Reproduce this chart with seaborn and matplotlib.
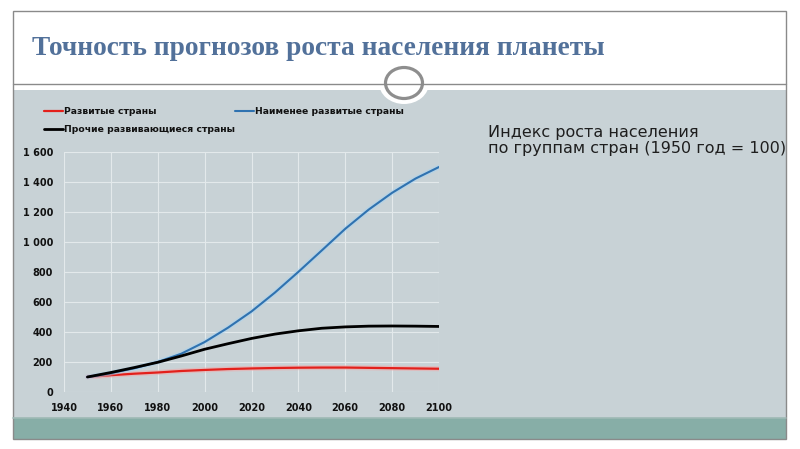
import matplotlib
matplotlib.use("Agg")
import matplotlib.pyplot as plt
import matplotlib.patches as mpatches
import matplotlib.patheffects as pe
import matplotlib.ticker as mticker
import numpy as np
import pandas as pd
import seaborn as sns

# ---------------- data ----------------
years = [1950, 1960, 1970, 1980, 1990, 2000, 2010, 2020, 2030, 2040,
         2050, 2060, 2070, 2080, 2090, 2100]
developed = [100, 112, 122, 130, 140, 147, 153, 157, 160, 162,
             163, 163, 161, 159, 157, 155]
least_developed = [100, 126, 158, 200, 255, 333, 429, 537, 663, 801,
                   944, 1088, 1216, 1328, 1423, 1500]
other_developing = [100, 130, 163, 198, 240, 285, 322, 357, 386, 408,
                    425, 434, 439, 440, 439, 437]
series_names = ["Развитые страны", "Наименее развитые страны",
                "Прочие развивающиеся страны"]
series_colors = ["#e3201b", "#2f72b0", "#000000"]
x_ticks = [1940, 1960, 1980, 2000, 2020, 2040, 2060, 2080, 2100]
y_ticks = [0, 200, 400, 600, 800, 1000, 1200, 1400, 1600]
title_text = "Точность прогнозов роста населения планеты"
note_text = "Индекс роста населения\nпо группам стран (1950 год = 100)"

df = pd.DataFrame({
    "year": years * 3,
    "value": developed + least_developed + other_developing,
    "group": [series_names[0]] * len(years) + [series_names[1]] * len(years)
             + [series_names[2]] * len(years),
})

sns.set_theme(style="white")
plt.rcParams["font.family"] = ["DejaVu Sans"]

W, H = 800, 449
fig = plt.figure(figsize=(W / 100, H / 100), dpi=100)
fig.patch.set_facecolor("white")

# ---------------- slide background (pixel coords) ----------------
bg = fig.add_axes([0, 0, 1, 1], zorder=0)
bg.set_xlim(0, W)
bg.set_ylim(H, 0)
bg.axis("off")
panel = mpatches.Rectangle((13, 90), 773, 328, facecolor="#c8d2d6",
                           edgecolor="none")
bg.add_patch(panel)
bg.add_patch(mpatches.Rectangle((13, 418), 773, 21, facecolor="#87aea7",
                                edgecolor="none"))
bg.plot([13, 786], [418, 418], color="#9fb9b5", lw=1.2)
bg.add_patch(mpatches.Rectangle((13, 11), 773, 428, facecolor="none",
                                edgecolor="#8a8a8a", lw=1.0))
bg.plot([13, 786], [84, 84], color="#8a8a8a", lw=1.0)
# ornament circle
bg.add_patch(mpatches.Ellipse((404, 83), 50, 42, facecolor="white",
                              edgecolor="none"))
bg.add_patch(mpatches.Ellipse((404, 83), 37, 31, facecolor="white",
                              edgecolor="#8e8e8e", lw=2.3))
bg.text(32, 55, title_text, family="Liberation Serif", weight="bold",
        fontsize=19.75, color="#52719a", ha="left", va="baseline")
note = bg.text(488, 153, note_text, fontsize=11.5, color="#1e1e1e",
               ha="left", va="baseline", linespacing=1.08)
note.set_clip_path(panel)

# ---------------- chart ----------------
ax = fig.add_axes([64 / W, 1 - 392 / H, 375 / W, 240 / H], zorder=2)
ax.patch.set_alpha(0)
halo = ["#f4a5a5", "#a6d2f2", None]
widths = [1.6, 1.5, 2.0]
for i, name in enumerate(series_names):
    sub = df[df["group"] == name]
    sns.lineplot(data=sub, x="year", y="value", ax=ax, color=series_colors[i],
                 lw=widths[i], label=name, zorder=3 + (i == 2))

ax.set_xlim(1940, 2100)
ax.set_ylim(0, 1600)
ax.set_xticks(x_ticks)
ax.set_yticks(y_ticks)
ax.yaxis.set_major_formatter(mticker.FuncFormatter(
    lambda v, p: f"{int(v):,}".replace(",", " ")))
ax.grid(True, color="#e3e9eb", lw=0.8)
for s in ax.spines.values():
    s.set_visible(False)
ax.tick_params(axis="both", length=0, labelsize=7, colors="#111111")
ax.tick_params(axis="y", pad=8)
ax.tick_params(axis="x", pad=8)
for lbl in ax.get_xticklabels() + ax.get_yticklabels():
    lbl.set_fontweight("bold")
ax.set_xlabel("")
ax.set_ylabel("")

handles, labels = ax.get_legend_handles_labels()
order = [0, 2, 1]
leg = ax.legend([handles[k] for k in order], [labels[k] for k in order],
                ncol=2, loc="upper left", bbox_to_anchor=(44 / W, 1 - 107 / H),
                bbox_transform=fig.transFigure, frameon=False,
                prop={"size": 6.7, "weight": "bold"}, handlelength=2.0,
                handletextpad=0.1, columnspacing=0.1, labelspacing=0.95,
                borderaxespad=0, borderpad=0)
for t in leg.get_texts():
    t.set_color("#111111")

# soft glow around the coloured lines (drawn after legend creation)
for i, line in enumerate(ax.get_lines()[:3]):
    if halo[i] is not None:
        line.set_path_effects([pe.Stroke(linewidth=widths[i] + 2.0,
                                         foreground=halo[i], alpha=0.5),
                               pe.Normal()])

fig.savefig("out.png", dpi=100, facecolor="white")
